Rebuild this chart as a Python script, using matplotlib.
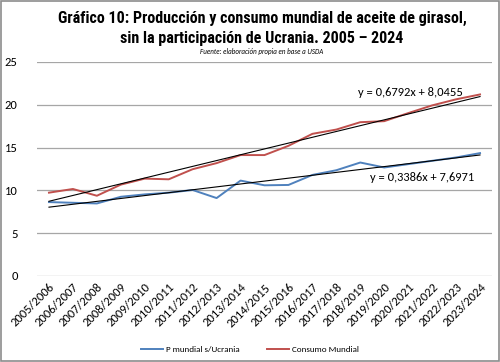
import matplotlib
matplotlib.use("Agg")
import matplotlib.pyplot as plt
from matplotlib.patches import Rectangle
import numpy as np

categories = ["2005/2006", "2006/2007", "2007/2008", "2008/2009", "2009/2010",
              "2010/2011", "2011/2012", "2012/2013", "2013/2014", "2014/2015",
              "2015/2016", "2016/2017", "2017/2018", "2018/2019", "2019/2020",
              "2020/2021", "2021/2022", "2022/2023", "2023/2024"]
produccion = [8.63, 8.55, 8.47, 9.25, 9.53, 9.73, 10.04, 9.10, 11.14, 10.59,
              10.63, 11.80, 12.35, 13.25, 12.67, 13.06, 13.45, 13.84, 14.35]
consumo = [9.73, 10.16, 9.37, 10.67, 11.37, 11.29, 12.47, 13.18, 14.12, 14.12,
           15.20, 16.60, 17.10, 17.96, 18.08, 19.02, 19.92, 20.63, 21.20]
trend_consumo = (0.6792, 8.0455)
trend_prod = (0.3386, 7.6971)
yticks = [0, 5, 10, 15, 20, 25]

plt.rcParams['font.family'] = ['Carlito', 'DejaVu Sans']

fig = plt.figure(figsize=(5, 3.62), dpi=100)
ax = fig.add_axes([0.074, 0.2376, 0.91, 0.5914])

x = np.arange(len(categories))
ax.plot(x, produccion, color='#4F81BD', lw=1.4, label='P mundial s/Ucrania', zorder=3)
ax.plot(x, consumo, color='#C0504D', lw=1.4, label='Consumo Mundial', zorder=3)

xn = x + 1
ax.plot(x, trend_consumo[0] * xn + trend_consumo[1], color='black', lw=0.8, zorder=4)
ax.plot(x, trend_prod[0] * xn + trend_prod[1], color='black', lw=0.8, zorder=4)

ax.set_xlim(-0.5, len(categories) - 0.5)
ax.set_ylim(0, 25)
ax.set_yticks(yticks)
ax.set_yticklabels([str(v) for v in yticks], fontsize=9)
ax.yaxis.grid(True, color='#A6A6A6', lw=0.9)
ax.set_axisbelow(True)
for s in ax.spines.values():
    s.set_visible(False)
ax.tick_params(axis='y', length=0, pad=14)
ax.set_xticks(x)
ax.set_xticklabels(categories, rotation=45, ha='right', va='top',
                   rotation_mode='anchor', fontsize=9)
ax.tick_params(axis='x', length=0, pad=4)

ax.text(0.82, 0.855, "y = 0,6792x + 8,0455", transform=ax.transAxes,
        fontsize=9, ha='center', va='center')
ax.text(0.846, 0.458, "y = 0,3386x + 7,6971", transform=ax.transAxes,
        fontsize=9, ha='center', va='center')

tf = ['Roboto Condensed', 'DejaVu Sans']
fig.text(0.524, 0.950, "Gráfico 10: Producción y consumo mundial de aceite de girasol,",
         family=tf, fontweight='bold', fontsize=11.5, ha='center', va='center')
fig.text(0.524, 0.895, "sin la participación de Ucrania. 2005 – 2024",
         family=tf, fontweight='bold', fontsize=11.5, ha='center', va='center')
fig.text(0.524, 0.858, "Fuente: elaboración propia en base a USDA",
         fontsize=5, style='italic', ha='center', va='center')

leg = fig.legend(loc='center', bbox_to_anchor=(0.5, 0.035), ncol=2, frameon=False,
                 fontsize=6.5, handlelength=2.5, columnspacing=3, handletextpad=0.3)

fig.add_artist(Rectangle((0.002, 0.003), 0.996, 0.994, transform=fig.transFigure,
                         fill=False, edgecolor='#8C8C8C', lw=1.2))

fig.savefig("out.png", dpi=100)
